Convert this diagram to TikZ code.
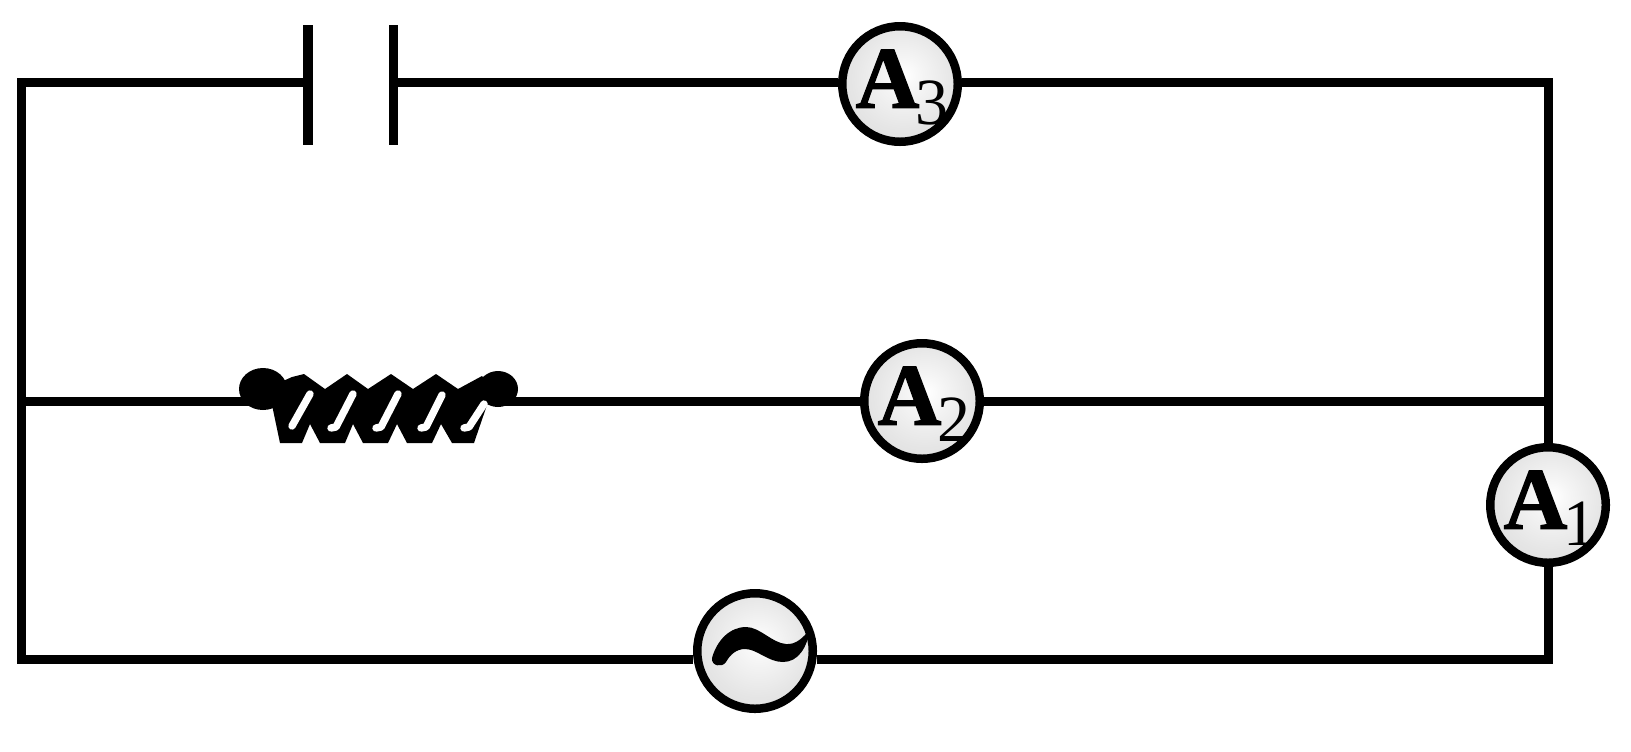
\documentclass[tikz,border=0pt]{standalone}
\usepackage{fontspec}
\setmainfont{Liberation Serif}
\newfontfamily\labfont{Liberation Serif}[BoldFeatures={FakeBold=1.5}]
\pgfdeclareradialshading{meterfill}{\pgfpoint{2bp}{4bp}}{color(0bp)=(white); color(8bp)=(white!96!black); color(22bp)=(white!90!black); color(38bp)=(white!85!black); color(50bp)=(white!80!black)}
\newcommand{\meterlabel}[1]{\smash{\makebox[0pt]{\kern2pt\raisebox{-11.9pt}{{\labfont\fontsize{44}{44}\selectfont\bfseries A}\kern-2pt\raisebox{-8.5pt}{\labfont\fontsize{33}{33}\selectfont #1}}}}}
\begin{document}
\begin{tikzpicture}[x=0.5pt,y=-0.5pt,
  wire/.style={line width=4.5pt,line join=miter,line cap=butt},
  meter/.style={circle,draw=black,line width=4.25pt,minimum size=57.75pt,inner sep=0pt,shading=meterfill},
  slot/.style={white,line width=3.7pt,line cap=round,line join=round},
]
\useasboundingbox (0,0) rectangle (1631,751);
% corners and junctions
\coordinate (TL) at (21,82);
\coordinate (TR) at (1548,82);
\coordinate (ML) at (21,401);
\coordinate (MR) at (1548,401);
\coordinate (BL) at (21,659);
\coordinate (BR) at (1548,659);
% capacitor
\coordinate (C1) at (308,82);
\coordinate (C2) at (393.5,82);
\coordinate (C1t) at (308,25);
\coordinate (C1b) at (308,145);
\coordinate (C2t) at (393.5,25);
\coordinate (C2b) at (393.5,145);
% inductor ends
\coordinate (Lin) at (250,401);
\coordinate (Lout) at (505,401);
% meters
\node[meter] (A3) at (900,84) {\meterlabel{3}};
\node[meter] (A2) at (922,401) {\meterlabel{2}};
\node[meter] (A1) at (1548,505) {\meterlabel{1}};
\node[meter] (S) at (755,651) {};
% wires
\draw[wire] (C1) -- (TL) -- (BL) -- (S.west |- BL);
\draw[wire] (S.east |- BR) -- (BR) -- (A1);
\draw[wire] (A1) -- (TR) -- (A3.east |- TR);
\draw[wire] (A3.west |- TR) -- (C2);
\draw[wire] (ML) -- (Lin);
\draw[wire] (Lout) -- (A2);
\draw[wire] (A2) -- (MR);
% capacitor plates
\draw[line width=4.7pt] (C1t) -- (C1b);
\draw[line width=4.7pt] (C2t) -- (C2b);
% inductor
\fill[black] (263,389) ellipse [x radius=12pt, y radius=10.5pt];
\fill[black] (498,389) ellipse [x radius=10pt, y radius=9pt];
\fill[black] (272,386) -- (292,377) -- (304,374) -- (325,389) -- (347,374) -- (368,389)
  -- (391,374) -- (413,389) -- (436,374) -- (458,389) -- (482,376) -- (490,385)
  -- (487,405) -- (474,443) -- (452,443) -- (441,424) -- (432,443) -- (407,443)
  -- (397,424) -- (388,443) -- (363,443) -- (353,424) -- (345,443) -- (320,443)
  -- (310,424) -- (302,443) -- (280,443) -- (272,405) -- cycle;
\draw[slot] (292,426) -- (310,394);
\draw[slot] (331,428) -- (336,427) -- (353,394);
\draw[slot] (376,428) -- (381,427) -- (398,394);
\draw[slot] (421,428) -- (426,427) -- (442,395);
\draw[slot] (464,428) -- (469,427) -- (484,404);
% tilde
\fill[black] (712,658) .. controls (717,640) and (730,627) .. (746,627)
  .. controls (760,627) and (772,643) .. (786,644)
  .. controls (796,645) and (804,637) .. (810,629)
  .. controls (807,648) and (798,662) .. (783,662)
  .. controls (768,662) and (757,649) .. (745,649)
  .. controls (736,649) and (730,655) .. (726,662)
  .. controls (722,668) and (711,666) .. (712,658) -- cycle;
\end{tikzpicture}
\end{document}
